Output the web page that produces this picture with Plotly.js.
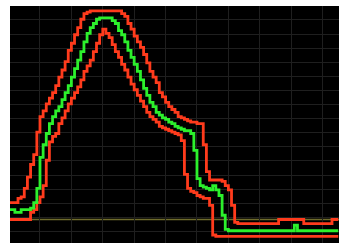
<!DOCTYPE html>
<html>
<head>
<meta charset="utf-8">
<script src="https://cdn.plot.ly/plotly-3.0.1.min.js"></script>
<style>
html,body{margin:0;padding:0;background:#fff;}
#chart{width:339px;height:243px;}
</style>
</head>
<body>
<div id="chart"></div>
<script>
// Measured signal (centre) and its upper / lower tolerance envelope, one value per sample
var GREEN = [7,7,5,5,7,7,7,8,12,22,44,53,61,68,73,77,80,85,90,95,101,107,113,119,126,132,136,139,142,143,
  143,143,143,141,139,134,131,126,120,115,110,105,99,93,88,83,80,76,74,72,71,69,68,66,65,64,63,63,61,49,
  29,24,23,22,21,24,21,17,3,-7,
  -8,-8,-8,-8,-8,-8,-8,-8,-8,-8,-8,-8,-8,-8,-8,-8,-8,-8,-8,-8,-8,
  -4,
  -8,-8,-8,-8,-8,-8,-8,-8,-8,-8,-8,-8,-8,-8];
var UPPER = [12,12,12,15,16,22,30,39,46,62,73,77,82,86,90,95,101,106,112,120,125,131,136,142,146,147,
  148,148,148,148,148,148,148,148,148,148,
  146,144,139,135,130,126,122,117,111,105,101,97,90,87,83,80,78,76,73,72,71,70,69,69,68,68,53,34,
  28,28,28,28,27,24,21,10,-2,
  -3,-3,-3,-3,-3,-3,-3,-3,-3,-3,-3,-3,-3,
  0,0,0,0,0,0,0,0,
  -3,-3,-3,-3,-3,-3,-3,-3,-3,
  0,0,0];
var LOWER = [0,0,0,0,0,0,0,5,7,12,16,24,42,55,59,61,68,72,77,82,86,90,94,99,105,109,113,119,125,131,
  135,132,129,124,119,115,110,106,101,96,92,88,84,80,76,73,71,69,66,65,64,63,62,61,60,56,32,22,20,19,
  17,16,15,15,10,-11,
  -12,-12,-12,-12,-12,-12,-12,-12,-12,-12,-12,-12,-12,-12,-12,-12,-12,-12,-12,-12,
  -12,-12,-12,-12,-12,-12,-12,-12,-12,-12,-12,-12,-12,-12,-12,-12,-12,-12,-12,-12];
var THRESHOLD = 0;
var SAMPLES = GREEN.map(function(_, i){ return i; });

var RED = '#ff3b1c', GRN = '#2cf02c';

var traces = [
  {x: SAMPLES, y: UPPER, type: 'scatter', mode: 'lines', line: {shape: 'hv', color: RED, width: 2.8}, hoverinfo: 'skip'},
  {x: SAMPLES, y: LOWER, type: 'scatter', mode: 'lines', line: {shape: 'hv', color: RED, width: 2.8}, hoverinfo: 'skip'},
  {x: SAMPLES, y: GREEN, type: 'scatter', mode: 'lines', line: {shape: 'hv', color: GRN, width: 2.8}, hoverinfo: 'skip'}
];

var axisBase = {showticklabels: false, ticks: '', zeroline: false, showline: false,
  gridcolor: '#1f1f1f', gridwidth: 1, fixedrange: true};

var layout = {
  width: 339, height: 243,
  margin: {l: 10, r: 0, t: 6, b: 0, pad: 0},
  paper_bgcolor: '#ffffff', plot_bgcolor: '#000000',
  showlegend: false,
  xaxis: Object.assign({}, axisBase, {range: [0.45, 105.23], tick0: 0, dtick: 10}),
  yaxis: Object.assign({}, axisBase, {range: [-16.67, 151.4], tick0: 1.5, dtick: 10}),
  shapes: [{type: 'line', xref: 'paper', x0: 0, x1: 1, yref: 'y', y0: THRESHOLD, y1: THRESHOLD,
    line: {color: '#6f6c2c', width: 1.5}, layer: 'below'}]
};

Plotly.newPlot('chart', traces, layout, {displayModeBar: false, staticPlot: true});
</script>
</body>
</html>
